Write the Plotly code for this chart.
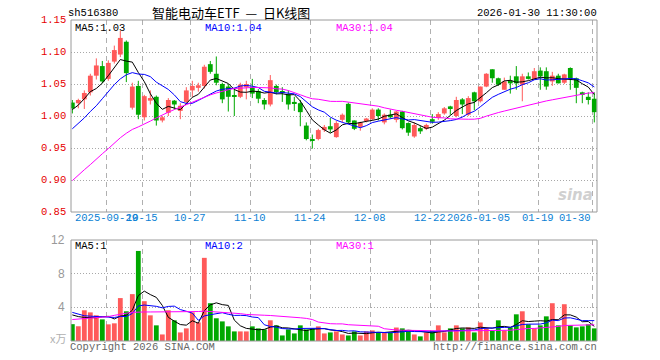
import plotly.graph_objects as go
import pandas as pd

# ---------------- data ----------------
opens = [1.021, 1.020, 1.026, 1.037, 1.063, 1.078, 1.058, 1.085, 1.096, 1.116,
         1.013, 1.047, 0.998, 1.024, 1.030, 0.993, 1.005, 1.024, 1.008, 1.022,
         1.040, 1.044, 1.047, 1.081, 1.066, 1.050, 1.046, 1.032, 1.030, 1.045,
         1.045, 1.039, 1.025, 1.018, 1.047, 1.038, 1.034, 1.022, 1.020, 0.985,
         0.964, 0.964, 0.978, 0.984, 0.967, 0.994, 1.019, 0.993, 0.983, 0.993,
         0.995, 1.010, 0.990, 1.002, 0.994, 1.007, 0.989, 0.968, 0.981, 0.980,
         0.995, 0.997, 1.004, 1.015, 1.000, 1.026, 1.002, 1.037, 1.023, 1.046,
         1.073, 1.059, 1.041, 1.055, 1.062, 1.049, 1.062, 1.057, 1.071, 1.070,
         1.054, 1.063, 1.052, 1.075, 1.059, 1.037, 1.030, 1.027]
highs = [1.025, 1.027, 1.040, 1.066, 1.090, 1.086, 1.087, 1.110, 1.133, 1.118,
         1.052, 1.055, 1.033, 1.040, 1.032, 1.000, 1.028, 1.025, 1.020, 1.045,
         1.055, 1.052, 1.080, 1.086, 1.093, 1.052, 1.050, 1.044, 1.052, 1.055,
         1.058, 1.042, 1.028, 1.064, 1.049, 1.045, 1.040, 1.030, 1.025, 0.990,
         0.971, 0.980, 0.986, 0.997, 0.992, 1.004, 1.021, 0.993, 0.991, 0.997,
         1.012, 1.012, 1.004, 1.010, 1.008, 1.008, 0.990, 0.990, 0.984, 0.988,
         1.003, 1.006, 1.014, 1.016, 1.030, 1.028, 1.031, 1.038, 1.046, 1.067,
         1.073, 1.060, 1.060, 1.063, 1.078, 1.066, 1.068, 1.075, 1.076, 1.076,
         1.069, 1.066, 1.066, 1.076, 1.060, 1.038, 1.037, 1.037]
lows = [1.004, 1.012, 1.011, 1.032, 1.057, 1.051, 1.055, 1.082, 1.092, 1.053,
        1.010, 0.995, 0.993, 1.018, 0.985, 0.990, 1.000, 1.010, 0.995, 1.018,
        1.030, 1.038, 1.043, 1.066, 1.048, 1.020, 1.007, 1.000, 1.028, 1.026,
        1.028, 1.020, 1.010, 1.015, 1.034, 1.022, 1.010, 1.008, 0.984, 0.962,
        0.949, 0.962, 0.975, 0.974, 0.966, 0.990, 0.988, 0.978, 0.977, 0.990,
        0.993, 0.993, 0.987, 0.996, 0.990, 0.979, 0.969, 0.966, 0.972, 0.978,
        0.988, 0.994, 1.002, 1.002, 0.998, 1.003, 1.000, 1.009, 1.021, 1.045,
        1.052, 1.047, 1.041, 1.035, 1.041, 1.023, 1.057, 1.057, 1.041, 1.041,
        1.047, 1.051, 1.050, 1.041, 1.020, 1.020, 1.018, 0.990]
closes = [1.012, 1.025, 1.036, 1.063, 1.079, 1.054, 1.083, 1.103, 1.122, 1.067,
          1.046, 1.002, 1.031, 1.028, 0.993, 0.998, 1.025, 1.018, 1.016, 1.040,
          1.047, 1.048, 1.077, 1.069, 1.052, 1.026, 1.030, 1.030, 1.049, 1.050,
          1.035, 1.027, 1.018, 1.056, 1.037, 1.036, 1.018, 1.020, 1.006, 0.964,
          0.962, 0.978, 0.983, 0.979, 0.989, 1.002, 0.990, 0.980, 0.990, 0.996,
          1.010, 1.000, 1.002, 0.998, 1.007, 0.981, 0.974, 0.986, 0.976, 0.986,
          0.991, 1.003, 1.012, 1.012, 1.025, 1.018, 1.028, 1.023, 1.046, 1.066,
          1.059, 1.049, 1.054, 1.051, 1.051, 1.062, 1.058, 1.070, 1.062, 1.046,
          1.063, 1.051, 1.065, 1.059, 1.044, 1.033, 1.025, 1.006]
volumes = [2.0, 1.75, 3.65, 3.4, 3.05, 2.57, 1.98, 2.1, 5.1, 3.53,
           5.57, 10.7, 4.73, 3.05, 1.86, 0.78, 3.65, 2.46, 1.02, 1.5,
           3.4, 2.2, 9.88, 4.49, 2.7, 2.33, 1.74, 1.14, 1.14, 1.14,
           1.74, 1.5, 1.38, 2.46, 1.86, 0.66, 1.38, 0.9, 1.86, 1.38,
           1.5, 1.74, 0.9, 1.02, 1.14, 0.78, 0.66, 1.14, 0.66, 1.14,
           1.26, 1.0, 1.0, 1.02, 1.6, 1.5, 1.26, 0.78, 0.55, 1.0,
           1.2, 1.86, 1.02, 1.5, 1.86, 1.5, 1.62, 1.02, 2.2, 1.5,
           1.26, 2.46, 1.26, 1.62, 3.17, 3.53, 1.98, 1.5, 1.86, 2.93,
           4.49, 1.86, 4.37, 1.86, 1.62, 1.74, 1.98, 1.5]

# moving-average values visible before enough candles exist
ma5_head = [1.010, 1.017, 1.027, 1.038]
ma10_head = [0.980, 0.988, 0.997, 1.007, 1.016, 1.027, 1.038, 1.049, 1.058]
ma30_head = [0.899, 0.908, 0.916, 0.924, 0.933, 0.941, 0.949, 0.958, 0.966, 0.973,
             0.979, 0.983, 0.987, 0.992, 0.997, 1.002, 1.006, 1.010, 1.014, 1.018,
             1.022, 1.026, 1.030, 1.033, 1.036, 1.039, 1.041, 1.043, 1.044]
vma5_head = [3.1, 2.9, 2.8, 2.8]
vma10_head = [3.4, 3.2, 3.0, 2.95, 2.9, 2.9, 2.85, 2.8, 2.9]
vma30_head = [2.55, 2.6, 2.65, 2.7, 2.75, 2.8, 2.9, 3.05, 3.2, 3.3,
              3.4, 3.45, 3.45, 3.45, 3.45, 3.45, 3.45, 3.45, 3.45, 3.45,
              3.5, 3.5, 3.55, 3.5, 3.45, 3.45, 3.4, 3.35, 3.25]

tick_index = [6, 12, 20, 30, 40, 50, 60, 68, 78, 87]
tick_labels = ["2025-09-29", "10-15", "10-27", "11-10", "11-24",
               "12-08", "12-22", "2026-01-05", "01-19", "01-30"]
price_ticks = [0.85, 0.90, 0.95, 1.00, 1.05, 1.10, 1.15]
vol_ticks = [4, 8, 12]
price_ma_labels = ["MA5:1.03", "MA10:1.04", "MA30:1.04"]
vol_ma_labels = ["MA5:1", "MA10:2", "MA30:1"]
code = "sh516380"
title = "智能电动车ETF\u00a0\u00a0—\u00a0\u00a0日K线图"
stamp = "2026-01-30 11:30:00"


def ma(values, n, head):
    s = pd.Series(values).rolling(n).mean().tolist()
    return list(head) + s[n - 1:]


ma5 = ma(closes, 5, ma5_head)
ma10 = ma(closes, 10, ma10_head)
ma30 = ma(closes, 30, ma30_head)
vma5 = ma(volumes, 5, vma5_head)
vma10 = ma(volumes, 10, vma10_head)
vma30 = ma(volumes, 30, vma30_head)

# ---------------- style ----------------
RED = "#ff5a5a"
GREEN = "#00a800"
BLUE_TXT = "#0a7fd4"
MONO = "Liberation Mono, DejaVu Sans Mono, monospace"
CJK = "Noto Sans CJK SC"
L, R, T, B = 71, 597, 20, 341
MAIN_BOTTOM, VOL_TOP = 212, 240

n = len(closes)
idx = list(range(n))
up = [c >= o for o, c in zip(opens, closes)]
colors = [RED if u else GREEN for u in up]
base = [min(o, c) for o, c in zip(opens, closes)]
height = [max(abs(c - o), 0.0016) for o, c in zip(opens, closes)]

fig = go.Figure()

# wicks
for col, flag in ((RED, True), (GREEN, False)):
    xs, ys = [], []
    for i in idx:
        if up[i] == flag:
            xs += [i, i, None]
            ys += [lows[i], highs[i], None]
    fig.add_trace(go.Scatter(x=xs, y=ys, mode="lines", line=dict(color=col, width=1),
                             hoverinfo="skip", xaxis="x", yaxis="y"))
# bodies
fig.add_trace(go.Bar(x=idx, y=height, base=base, width=0.8,
                     marker=dict(color=colors, line=dict(width=0)), xaxis="x", yaxis="y"))
# MA lines
for vals, col in ((ma5, "#000000"), (ma10, "#0000ff"), (ma30, "#ff00ff")):
    fig.add_trace(go.Scatter(x=idx, y=vals, mode="lines", line=dict(color=col, width=1),
                             xaxis="x", yaxis="y"))
# volume
fig.add_trace(go.Bar(x=idx, y=volumes, width=0.8,
                     marker=dict(color=colors, line=dict(width=0)), xaxis="x2", yaxis="y2"))
for vals, col in ((vma5, "#000000"), (vma10, "#0000ff"), (vma30, "#ff00ff")):
    fig.add_trace(go.Scatter(x=idx, y=vals, mode="lines", line=dict(color=col, width=1),
                             xaxis="x2", yaxis="y2"))


def px_x(p):
    return (p - L) / (R - L)


def px_y(p):
    return (B - p) / (B - T)


grid_x = [i - 0.38 for i in tick_index]
xcommon = dict(range=[-0.22, n - 0.55], tickvals=grid_x, showticklabels=False, ticks="",
               showgrid=True, gridcolor="#b0b0b0", griddash="5px,4px", gridwidth=1,
               zeroline=False, showline=False, fixedrange=True)

fig.update_layout(
    width=660, height=360,
    margin=dict(l=L, r=660 - R, t=T, b=360 - B, autoexpand=False),
    paper_bgcolor="white", plot_bgcolor="white", showlegend=False, barmode="overlay",
    xaxis=dict(domain=[0, 1], anchor="y", **xcommon),
    xaxis2=dict(domain=[0, 1], anchor="y2", matches="x", **xcommon),
    yaxis=dict(domain=[px_y(MAIN_BOTTOM), 1], range=[price_ticks[0], price_ticks[-1]],
               tickvals=price_ticks, showticklabels=False, ticks="", showgrid=True,
               gridcolor="#a8a8a8", griddash="1px,2px", zeroline=False, fixedrange=True),
    yaxis2=dict(domain=[0, px_y(VOL_TOP)], range=[0, 12], tickvals=vol_ticks,
                showticklabels=False, ticks="", showgrid=True, gridcolor="#a8a8a8",
                griddash="1px,2px", zeroline=False, fixedrange=True),
)

# borders
for y0, y1 in ((px_y(MAIN_BOTTOM), 1), (0, px_y(VOL_TOP))):
    fig.add_shape(type="rect", xref="paper", yref="paper", x0=0, x1=1, y0=y0, y1=y1,
                  line=dict(color="#9a9a9a", width=1), fillcolor="rgba(0,0,0,0)", layer="above")

ann = []


def text(t, x, y, color="#000", size=10, family=MONO, xanchor="left", xref="paper",
         yref="paper", xshift=0, yanchor="middle", **kw):
    ann.append(dict(text=t, x=x, y=y, xref=xref, yref=yref, xanchor=xanchor,
                    yanchor=yanchor, showarrow=False, xshift=xshift, borderpad=0,
                    font=dict(color=color, size=size, family=family), **kw))


text(code, px_x(67), px_y(13), size=10.5)
text(title, px_x(231), px_y(12), size=13, family=CJK, xanchor="center")
text(stamp, px_x(598), px_y(13), xanchor="right", size=10.5)

for v in price_ticks:
    text(f"{v:.2f}", 0, v, color="#e60000", size=10.5, xanchor="right", yref="y", xshift=-4)
for v in vol_ticks:
    text(str(v), 0, v, color="#999999", size=12, family="Liberation Sans, Arial",
         xanchor="right", yref="y2", xshift=-5)
text("x万", px_x(49), px_y(338), color="#b0b0b0", size=11, family=CJK)

for lab, xp, col in zip(price_ma_labels, (74, 204, 335), ("#000000", "#0000ff", "#ff00ff")):
    text(lab, px_x(xp), px_y(28), color=col, size=10.5)
for lab, xp, col in zip(vol_ma_labels, (74, 204, 335), ("#000000", "#0000ff", "#ff00ff")):
    text(lab, px_x(xp), px_y(246), color=col, size=10.5)

for k, (i, lab) in enumerate(zip(tick_index, tick_labels)):
    last = k == len(tick_index) - 1
    text(lab, i - 0.38, px_y(218), color=BLUE_TXT, size=10.5,
         xanchor="right" if last else "center", xref="x")

text("Copyright 2026 SINA.COM", px_x(69), px_y(347), color="#666666", size=10.5)
text("http://finance.sina.com.cn", px_x(598), px_y(347), color="#666666", size=10.5,
     xanchor="right")
text("<b><i>sina</i></b>", px_x(594), px_y(195), color="#d0d0d0", size=15,
     family="DejaVu Sans, Arial", xanchor="right")

fig.update_layout(annotations=ann)
fig.write_html("out.html", config={"displayModeBar": False},
               post_script="document.body.style.margin='0';document.body.style.padding='0';")
